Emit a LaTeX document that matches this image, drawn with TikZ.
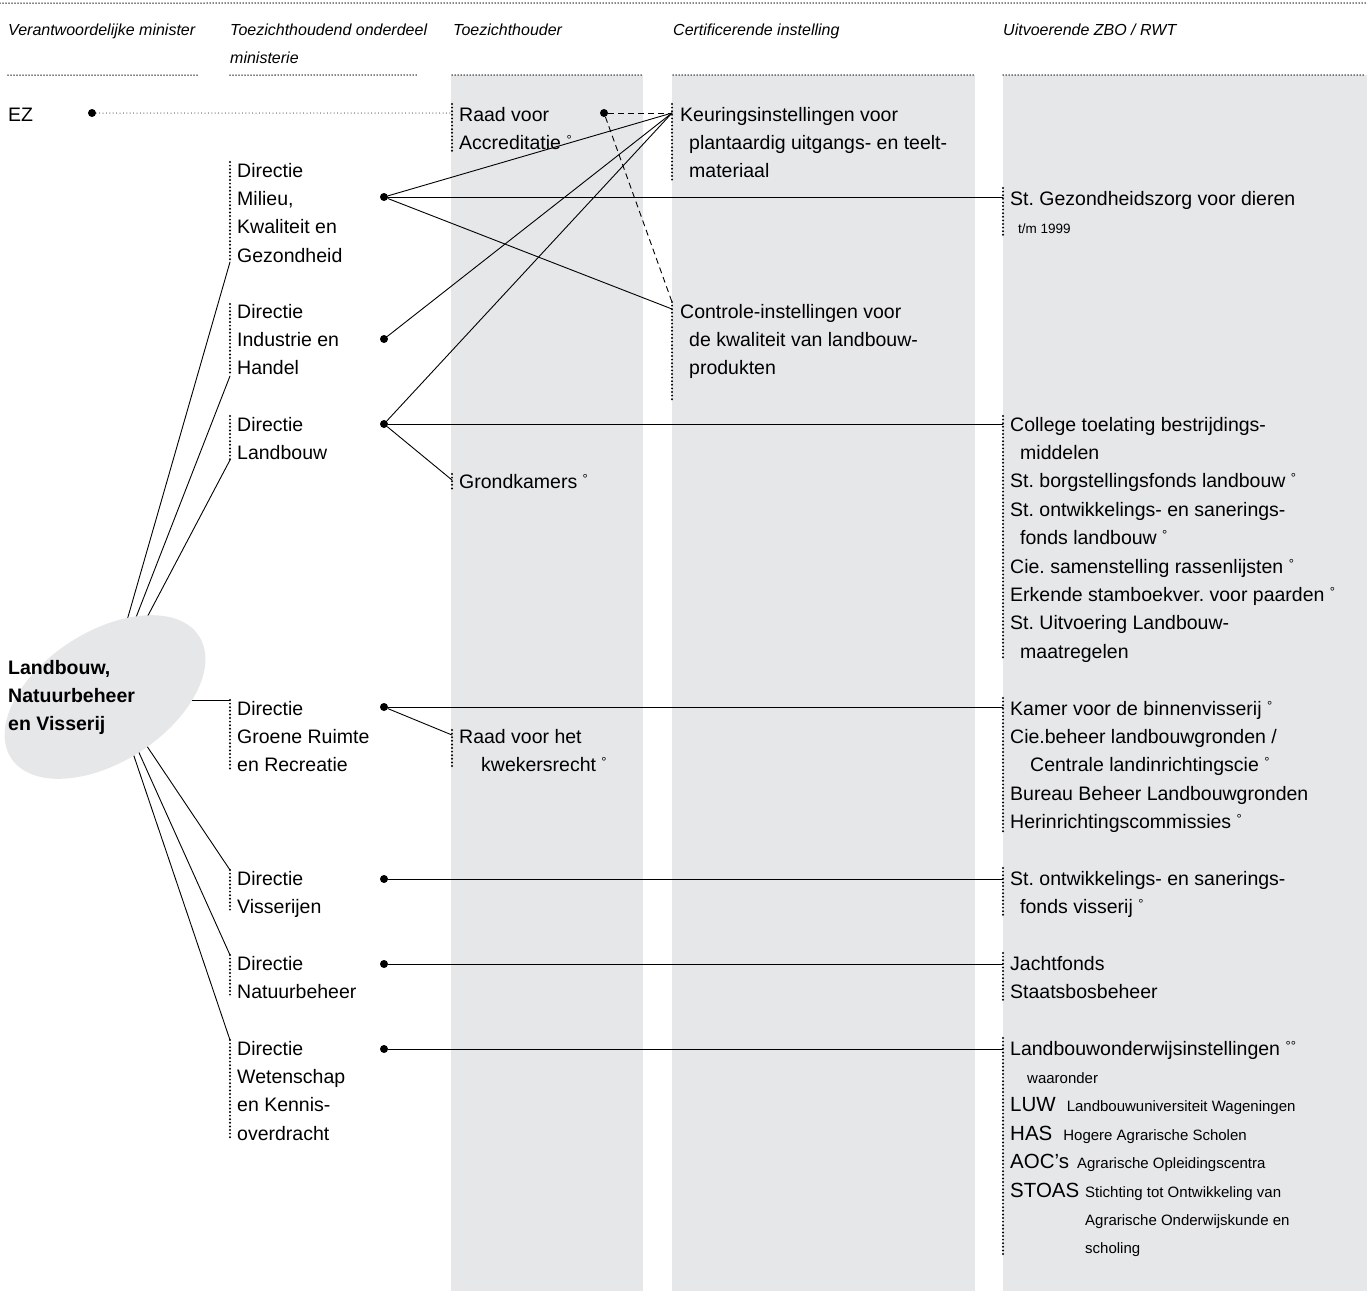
\documentclass[tikz,border=0pt]{standalone}
\usepackage{fontspec}
\setmainfont{Liberation Sans}
\usetikzlibrary{calc}
\definecolor{kolom}{HTML}{E6E7E9}
\frenchspacing
\newcommand{\gr}{\raisebox{5pt}{\fontsize{13}{13}\selectfont\textdegree}}
\newcommand{\ggr}{\raisebox{5pt}{\fontsize{13}{13}\selectfont\textdegree\textdegree}}
\newcommand{\klein}{\fontsize{15}{28.4}\selectfont}
\newcommand{\groot}{\fontsize{20.5}{28.4}\selectfont}

\begin{document}
\begin{tikzpicture}[x=1pt,y=-1pt,line cap=round,line join=round,
    kop/.style={anchor=base west,inner sep=0pt,align=flush left,text width=300pt,font=\fontsize{16}{28.4}\selectfont\itshape},
    tekst/.style={anchor=base west,inner sep=0pt,align=flush left,text width=340pt,font=\fontsize{19.5}{28.4}\selectfont},
    balk/.style={line width=2.2pt,dash pattern=on 0pt off 3.6pt},
    regel/.style={line width=1.5pt,dash pattern=on 0pt off 3pt},
    stippel/.style={line width=1pt,dash pattern=on 0pt off 3.4pt},
    lijn/.style={line width=0.9pt},
    streep/.style={line width=0.9pt,dash pattern=on 6pt off 4pt,line cap=butt},
    stip/.style={circle,fill=black,inner sep=0pt,minimum size=8pt}]
    \useasboundingbox (0,0) rectangle (1367,1291);
    \fill [kolom] (451,75) rectangle (643,1291);
    \fill [kolom] (672,75) rectangle (975,1291);
    \fill [kolom] (1003,75) rectangle (1367,1291);
    \draw [regel] (0,3) -- (1367,3);
    \draw [regel] (8,75) -- (198,75);
    \draw [regel] (230,75) -- (418,75);
    \draw [regel] (452,75) -- (642,75);
    \draw [regel] (673,75) -- (973,75);
    \draw [regel] (1003,75) -- (1365,75);
    \node[kop] (k1) at (8,35) {Verantwoordelijke minister};
    \node[kop] (k2) at (230,35) {Toezichthoudend onderdeel\\ministerie};
    \node[kop] (k3) at (453,35) {Toezichthouder};
    \node[kop] (k4) at (673,35) {Certificerende instelling};
    \node[kop] (k5) at (1003,35) {Uitvoerende ZBO / RWT};
    % aansluitpunten
    \coordinate (lnvN) at (105,697);
    \coordinate (lnvZ) at (114,697);
    \coordinate (rva-in) at (452,113);
    \coordinate (keur-in) at (672,113);
    \coordinate (controle-in) at (672,309);
    \coordinate (controle-top) at (672,302);
    \coordinate (grond-in) at (452,480);
    \coordinate (kweker-in) at (452,735);
    \coordinate (milieu-uit) at (230,262);
    \coordinate (industrie-uit) at (230,376);
    \coordinate (landbouw-uit) at (230,460);
    \coordinate (groen-in) at (230,700);
    \coordinate (visserij-in) at (230,870);
    \coordinate (natuur-in) at (230,955);
    \coordinate (wetenschap-in) at (230,1040);
    \node[stip] (ez-p) at (92,113) {};
    \node[stip] (rva-p) at (604,113) {};
    \node[stip] (milieu-p) at (384,197) {};
    \node[stip] (industrie-p) at (384,339) {};
    \node[stip] (landbouw-p) at (384,424) {};
    \node[stip] (groen-p) at (384,707) {};
    \node[stip] (visserij-p) at (384,879) {};
    \node[stip] (natuur-p) at (384,964) {};
    \node[stip] (wetenschap-p) at (384,1049) {};
    \draw [stippel] (ez-p) -- (rva-in);
    \draw [streep] (rva-p) -- (keur-in);
    \draw [streep] (rva-p) -- (controle-top);
    \draw [lijn] (milieu-p) -- (keur-in);
    \draw [lijn] (milieu-p) -- (controle-in);
    \draw [lijn] (milieu-p) -- (milieu-p -| 1003,0);
    \draw [lijn] (industrie-p) -- (keur-in);
    \draw [lijn] (landbouw-p) -- (keur-in);
    \draw [lijn] (landbouw-p) -- (grond-in);
    \draw [lijn] (landbouw-p) -- (landbouw-p -| 1003,0);
    \draw [lijn] (groen-p) -- (kweker-in);
    \draw [lijn] (groen-p) -- (groen-p -| 1003,0);
    \draw [lijn] (visserij-p) -- (visserij-p -| 1003,0);
    \draw [lijn] (natuur-p) -- (natuur-p -| 1003,0);
    \draw [lijn] (wetenschap-p) -- (wetenschap-p -| 1003,0);
    \draw [lijn] (lnvN) -- (milieu-uit);
    \draw [lijn] (lnvN) -- (industrie-uit);
    \draw [lijn] (lnvN) -- (landbouw-uit);
    \draw [lijn] (lnvN |- groen-in) -- (groen-in);
    \draw [lijn] (lnvZ) -- (visserij-in);
    \draw [lijn] (lnvZ) -- (natuur-in);
    \draw [lijn] (lnvZ) -- (wetenschap-in);
    \fill [kolom,rotate around={33:(lnvN)}] (lnvN) ellipse [x radius=112pt,y radius=65pt];
    \node[tekst,font=\fontsize{19.5}{28.4}\selectfont\bfseries] (lnv) at (8,674) {Landbouw,\\Natuurbeheer\\en Visserij};
    \node[tekst] (ez) at (8,121) {EZ};
    \node[tekst] (rva) at (459,121) {Raad voor\\Accreditatie \gr};
    \node[tekst] (keur) at (680,121) {Keuringsinstellingen voor\\\hspace*{9pt}plantaardig uitgangs- en teelt-\\\hspace*{9pt}materiaal};
    \node[tekst] (milieu) at (237,177) {Directie\\Milieu,\\Kwaliteit en\\Gezondheid};
    \node[tekst] (gezond) at (1010,205) {St. Gezondheidszorg voor dieren\\\hspace*{8pt}{\fontsize{13.5}{28.4}\selectfont t/m 1999}};
    \node[tekst] (industrie) at (237,318) {Directie\\Industrie en\\Handel};
    \node[tekst] (controle) at (680,318) {Controle-instellingen voor\\\hspace*{9pt}de kwaliteit van landbouw-\\\hspace*{9pt}produkten};
    \node[tekst] (landbouw) at (237,431) {Directie\\Landbouw};
    \node[tekst] (grond) at (459,488) {Grondkamers \gr};
    \node[tekst] (college) at (1010,431) {College toelating bestrijdings-\\\hspace*{10pt}middelen\\St. borgstellingsfonds landbouw \gr\\St. ontwikkelings- en sanerings-\\\hspace*{10pt}fonds landbouw \gr\\Cie. samenstelling rassenlijsten \gr\\Erkende stamboekver. voor paarden \gr\\St. Uitvoering Landbouw-\\\hspace*{10pt}maatregelen};
    \node[tekst] (groen) at (237,715) {Directie\\Groene Ruimte\\en Recreatie};
    \node[tekst] (kweker) at (459,743) {Raad voor het\\\hspace*{22pt}kwekersrecht \gr};
    \node[tekst] (kamer) at (1010,715) {Kamer voor de binnenvisserij \gr\\Cie.beheer landbouwgronden /\\\hspace*{20pt}Centrale landinrichtingscie \gr\\Bureau Beheer Landbouwgronden\\Herinrichtingscommissies \gr};
    \node[tekst] (visserij) at (237,885) {Directie\\Visserijen};
    \node[tekst] (fondsvis) at (1010,885) {St. ontwikkelings- en sanerings-\\\hspace*{10pt}fonds visserij \gr};
    \node[tekst] (natuur) at (237,970) {Directie\\Natuurbeheer};
    \node[tekst] (jacht) at (1010,970) {Jachtfonds\\Staatsbosbeheer};
    \node[tekst] (wetenschap) at (237,1055) {Directie\\Wetenschap\\en Kennis-\\overdracht};
    \node[tekst] (onderwijs) at (1010,1055) {Landbouwonderwijsinstellingen \ggr\\
        \hspace*{17pt}{\klein waaronder}\\
        {\groot LUW}\hspace{11pt}{\klein Landbouwuniversiteit Wageningen}\\
        {\groot HAS}\hspace{11pt}{\klein Hogere Agrarische Scholen}\\
        {\groot AOC's}\hspace{8pt}{\klein Agrarische Opleidingscentra}\\
        \makebox[75pt][l]{\groot STOAS}{\klein Stichting tot Ontwikkeling van}\\
        \hspace*{75pt}{\klein Agrarische Onderwijskunde en}\\
        \hspace*{75pt}{\klein scholing}};
    \draw [balk] (452,104) -- (452,152);
    \draw [balk] (672,104) -- (672,180);
    \draw [balk] (230,162) -- (230,262);
    \draw [balk] (1003,188) -- (1003,236);
    \draw [balk] (230,304) -- (230,376);
    \draw [balk] (672,302) -- (672,400);
    \draw [balk] (230,416) -- (230,460);
    \draw [balk] (452,474) -- (452,490);
    \draw [balk] (1003,416) -- (1003,660);
    \draw [balk] (230,700) -- (230,770);
    \draw [balk] (452,730) -- (452,768);
    \draw [balk] (1003,698) -- (1003,832);
    \draw [balk] (230,870) -- (230,912);
    \draw [balk] (1003,868) -- (1003,918);
    \draw [balk] (230,955) -- (230,997);
    \draw [balk] (1003,953) -- (1003,1003);
    \draw [balk] (230,1040) -- (230,1140);
    \draw [balk] (1003,1038) -- (1003,1255);
\end{tikzpicture}
\end{document}
